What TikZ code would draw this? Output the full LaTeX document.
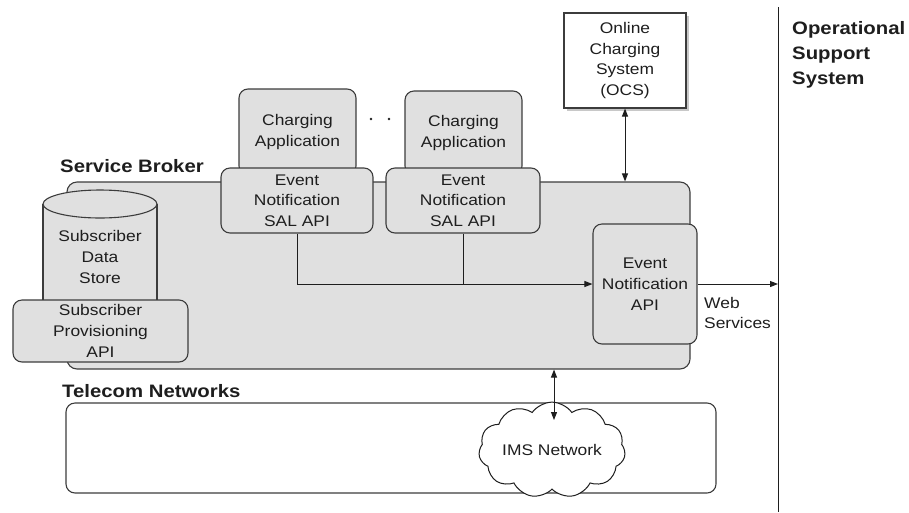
\documentclass[tikz,border=0pt]{standalone}
\usepackage{fontspec}
\setmainfont[FakeStretch=1.13]{Liberation Sans}
\usetikzlibrary{arrows.meta,shapes.symbols,calc}
\definecolor{boxgray}{RGB}{224,224,224}
\definecolor{edge}{RGB}{60,60,60}
\definecolor{ink}{RGB}{30,30,30}
\definecolor{shade}{RGB}{200,200,200}
\begin{document}
\begin{tikzpicture}[x=1pt,y=-1pt,
  txt/.style={font=\fontsize{15.4}{20.7}\selectfont,text=ink,align=center,inner sep=0pt},
  box/.style={txt,draw=edge,fill=boxgray,line width=1.1pt,rounded corners=9pt},
  title/.style={font=\bfseries\fontsize{18}{25}\selectfont,text=ink,align=left,inner sep=0pt},
  link/.style={draw=ink,line width=1pt},
  tip/.style={-{Triangle[length=8pt,width=6pt]}},
  tips/.style={{Triangle[length=8pt,width=6pt]}-{Triangle[length=8pt,width=6pt]}},
  dot/.style={circle,fill=ink,inner sep=0pt,minimum size=2.6pt}
]
\useasboundingbox (0,0) rectangle (909,512);

% Service broker frame
\node[box,rounded corners=10pt,minimum width=623pt,minimum height=187pt] (broker) at (378.5,275.5) {};
\node[title,anchor=base west] (sbl) at (60,172) {Service Broker};

% Subscriber data store (cylinder)
\path[fill=boxgray] (43,204) rectangle (157,300);
\draw[edge,line width=1.1pt] (43,204) -- (43,300) (157,204) -- (157,300);
\draw[edge,line width=1.1pt,fill=boxgray] (100,204) ellipse (57pt and 14pt);
\node[txt] (sds) at (100,257) {Subscriber\\Data\\Store};

\node[box,minimum width=175pt,minimum height=62pt] (spa) at (100.5,331) {Subscriber\\Provisioning\\API};

% Charging applications with their SAL APIs
\node[box,minimum width=117pt,minimum height=86pt] (ca1) at (297.5,132) {Charging\\Application};
\node[box,minimum width=117pt,minimum height=84pt] (ca2) at (463.5,133) {Charging\\Application};
\node[box,minimum width=152pt,minimum height=65pt] (en1) at (297,200.5) {Event\\Notification\\SAL API};
\node[box,minimum width=154pt,minimum height=65pt] (en2) at (463,200.5) {Event\\Notification\\SAL API};
\node[dot] (d1) at (371,119) {};
\node[dot] (d2) at (389,119) {};

\node[box,minimum width=104pt,minimum height=120pt] (ena) at (645,284) {Event\\Notification\\API};

% Online charging system, with a soft offset shadow behind it
\node[fill=shade,draw=none,inner sep=0pt,minimum width=122pt,minimum height=95pt] (ocsshadow) at (628,63.5) {};
\node[txt,draw=edge,fill=white,line width=1.1pt,minimum width=122pt,minimum height=95pt] (ocs) at (625,60.5)
      {Online\\Charging\\System\\(OCS)};

% OSS boundary
\coordinate (vtop) at (778,7);
\coordinate (vbot) at (778,512);
\draw[link] (vtop) -- (vbot);
\node[title,anchor=north west] (oss) at (792,21) {Operational\\Support\\System};

% Telecom networks
\node[title,anchor=base west] (tnl) at (62,397) {Telecom Networks};
\node[txt,draw=edge,fill=white,line width=1.1pt,rounded corners=9pt,minimum width=650pt,minimum height=90pt] (tel) at (391,448) {};
\node[txt,cloud,cloud puffs=11,cloud puff arc=110,aspect=1.8,draw=ink,fill=white,line width=1pt,
      minimum width=136pt,minimum height=76pt] (ims) at (552,450) {IMS Network};
\coordinate (imstop) at (554,420);

% Connectors
\draw[link,tip] (en1.south) |- (ena.west);
\draw[link] (en2.south) -- (en2.south |- ena.west);
\coordinate (wsend) at (vtop |- ena.east);
\draw[link,tip] (ena.east) -- (wsend);
\node[txt,align=left,anchor=west] (ws) at (704,313) {Web\\Services};
\draw[link,tips] (ocs.south) -- (ocs.south |- broker.north);
\draw[link,tips] (imstop |- broker.south) -- (imstop);
\end{tikzpicture}
\end{document}
